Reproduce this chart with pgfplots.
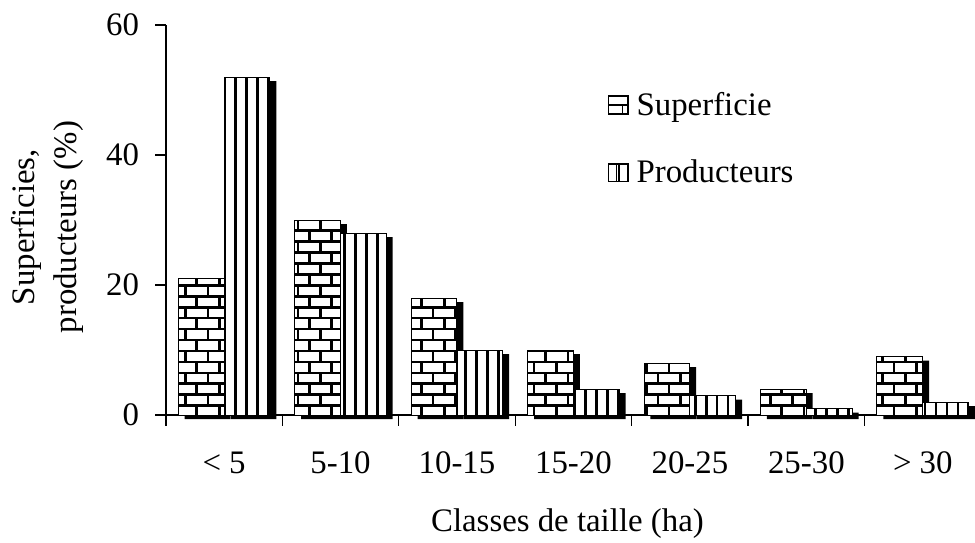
\documentclass[border=0pt]{standalone}
\usepackage{fontspec}
\setmainfont{Liberation Serif}
\usepackage{pgfplots}
\pgfplotsset{compat=1.18}
\usetikzlibrary{patterns}

\pgfdeclarepatternformonly{mybricks}{\pgfqpoint{-0.6pt}{-0.6pt}}{\pgfqpoint{11.9pt}{11.6pt}}{\pgfqpoint{11.3pt}{11pt}}{%
  \pgfsetlinewidth{1.35pt}%
  \pgfpathmoveto{\pgfqpoint{-0.6pt}{2.75pt}}\pgfpathlineto{\pgfqpoint{11.9pt}{2.75pt}}%
  \pgfpathmoveto{\pgfqpoint{-0.6pt}{8.25pt}}\pgfpathlineto{\pgfqpoint{11.9pt}{8.25pt}}%
  \pgfpathmoveto{\pgfqpoint{2.8pt}{2.75pt}}\pgfpathlineto{\pgfqpoint{2.8pt}{8.25pt}}%
  \pgfpathmoveto{\pgfqpoint{8.45pt}{8.25pt}}\pgfpathlineto{\pgfqpoint{8.45pt}{11.6pt}}%
  \pgfpathmoveto{\pgfqpoint{8.45pt}{-0.6pt}}\pgfpathlineto{\pgfqpoint{8.45pt}{2.75pt}}%
  \pgfusepath{stroke}%
}
\pgfdeclarepatternformonly{myvlines}{\pgfqpoint{0pt}{-1pt}}{\pgfqpoint{5.5pt}{12pt}}{\pgfqpoint{5.5pt}{11pt}}{%
  \pgfsetlinewidth{1.4pt}%
  \pgfpathmoveto{\pgfqpoint{2.75pt}{-1pt}}\pgfpathlineto{\pgfqpoint{2.75pt}{12pt}}%
  \pgfusepath{stroke}%
}

\pgfplotstableread{
x sup prod
0 21 52
1 30 28
2 18 10
3 10 4
4 8 3
5 4 1
6 9 2
}\datatable

\newcommand{\myfont}{\fontsize{16.5}{21.5}\selectfont}

\begin{document}
\begin{tikzpicture}
\begin{axis}[
  scale only axis,
  width=403.5pt, height=196pt,
  xmin=-0.5, xmax=6.397, ymin=0, ymax=60,
  axis x line*=bottom, axis y line*=left,
  axis line style={line width=0.65pt},
  clip=false,
  xtick={-0.5,0.5,1.5,2.5,3.5,4.5,5.5},
  xticklabels={},
  extra x ticks={0,1,2,3,4,5,6},
  extra x tick labels={{< 5},{5-10},{10-15},{15-20},{20-25},{25-30},{> 30}},
  extra x tick style={major tick length=0pt, xticklabel style={anchor=base, yshift=-29.5pt}},
  ytick={0,20,40,60},
  tick align=outside,
  major tick length=5.3pt,
  tick style={black, line width=0.65pt},
  tick label style={font=\myfont},
  yticklabel style={inner xsep=8pt, inner ysep=7pt},
  /pgf/number format/assume math mode=true,
  xlabel={Classes de taille (ha)},
  ylabel={Superficies,\\producteurs (\%)},
  every axis x label/.style={at={(rel axis cs:0.5,-0.2985)}, anchor=base, font=\myfont, inner sep=2pt},
  every axis y label/.style={at={(rel axis cs:-0.1475,0.482)}, anchor=center, rotate=90, align=center, font=\myfont, inner sep=5.5pt},
  legend style={at={(0.542,0.85)}, anchor=north west, draw=none, fill=none, font=\myfont, row sep=17pt, legend cell align=left},
]
% shadows
\addplot[ybar, forget plot, bar width=0.393, bar shift=-0.197, fill=black, draw=none, xshift=3.2pt, yshift=-2pt] table[x=x,y=sup]{\datatable};
\addplot[ybar, forget plot, bar width=0.393, bar shift=0.197, fill=black, draw=none, xshift=3.2pt, yshift=-2pt] table[x=x,y=prod]{\datatable};
% bars
\addplot[ybar, forget plot, bar width=0.393, bar shift=-0.197, draw=black, line width=0.5pt, fill=white, postaction={pattern=mybricks}] table[x=x,y=sup]{\datatable};
\addplot[ybar, forget plot, bar width=0.393, bar shift=0.197, draw=black, line width=0.5pt, fill=white, postaction={pattern=myvlines}] table[x=x,y=prod]{\datatable};
\addlegendimage{legend image code/.code={
  \draw[line width=0.8pt, fill=white] (0pt,-4.5pt) rectangle (10pt,4.5pt);
  \draw[line width=0.8pt] (0pt,0pt) -- (10pt,0pt);
  \draw[line width=0.8pt] (7pt,-4.5pt) -- (7pt,0pt);
  \path (12pt,0pt);
}}
\addlegendentry{Superficie}
\addlegendimage{legend image code/.code={
  \draw[line width=0.8pt, fill=white] (0pt,-4.5pt) rectangle (10pt,4.5pt);
  \draw[line width=0.8pt] (4.1pt,-4.5pt) -- (4.1pt,4.5pt);
  \draw[line width=0.8pt] (5.3pt,-4.5pt) -- (5.3pt,4.5pt);
  \path (12pt,0pt);
}}
\addlegendentry{Producteurs}
\end{axis}
\end{tikzpicture}
\end{document}
